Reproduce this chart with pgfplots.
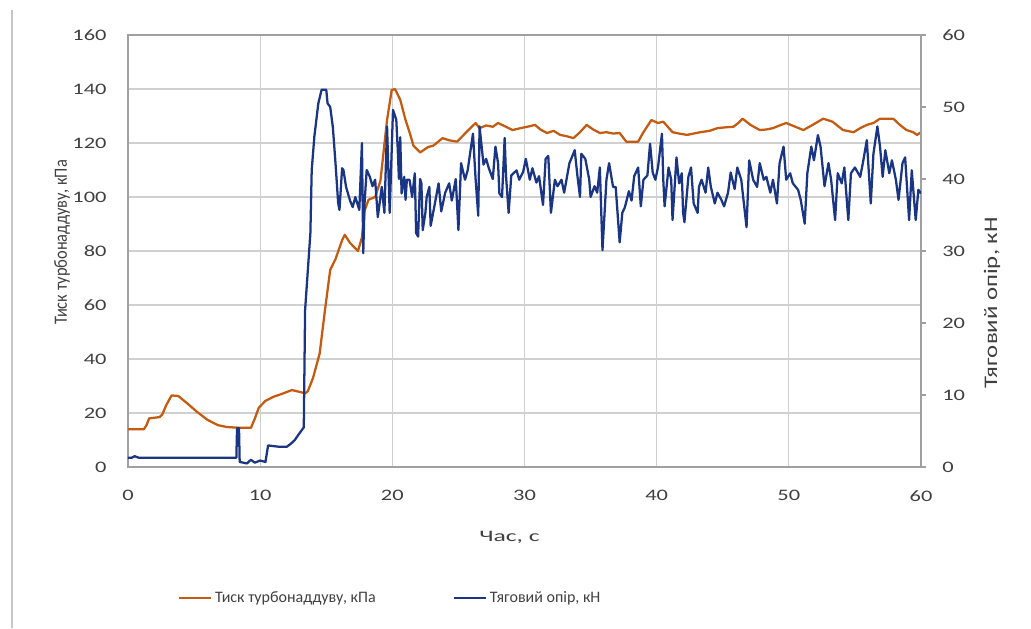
\documentclass[border=0pt]{standalone}
\usepackage{fontspec}
\setmainfont{Carlito}
\usepackage{pgfplots}
\pgfplotsset{compat=1.18}
\definecolor{orng}{HTML}{C55A11}
\definecolor{navy}{HTML}{1A3584}
\definecolor{gridc}{HTML}{D0D0D0}
\definecolor{axc}{HTML}{A0A0A0}
\definecolor{txt}{HTML}{404040}

\pgfplotstableread{
t p
0 14
1.2 14
1.4 15.5
1.6 18
2.4 18.5
2.6 19.5
2.9 23
3.3 26.5
3.8 26.3
4.5 23.5
5.2 20.5
6.0 17.5
6.8 15.5
7.5 14.8
8.5 14.5
9.3 14.5
9.6 18
9.9 22
10.4 24.5
11.0 26
11.6 27
12.4 28.5
13.0 27.8
13.4 27.3
13.6 28
14.0 33
14.5 42
14.9 58
15.3 73
15.7 77
16.2 84
16.4 86
16.8 83
17.4 80
17.7 85
17.9 95
18.2 99
18.7 100
19.1 106
19.6 128.5
19.95 139.6
20.2 140
20.6 136
21.0 128.5
21.3 124
21.6 119
22.1 116.5
22.7 118.5
23.1 119
23.8 121.8
24.3 121
24.9 120.5
25.6 124
26.3 127.4
26.6 125.5
27.1 126.5
27.6 126
28.0 127.4
28.6 126
29.1 124.8
29.7 125.5
30.2 126
30.8 126.7
31.2 125
31.7 123.7
32.2 124.5
32.7 123
33.2 122.5
33.7 121.8
34.2 124
34.7 126.7
35.2 125
35.7 123.7
36.2 124
36.7 123.5
37.2 123.7
37.7 120.5
38.2 120.5
38.6 120.5
39.0 124
39.6 128.5
40.1 127.4
40.5 127.9
41.2 124
41.7 123.5
42.3 123
42.8 123.5
43.3 124
44.0 124.5
44.6 125.5
45.2 125.8
45.8 126
46.2 127.5
46.5 129
47.1 126.7
47.8 124.8
48.3 125
48.8 125.5
49.3 126.5
49.8 127.4
50.5 126
51.1 124.8
51.8 126.7
52.6 129
53.3 127.9
54.1 124.8
54.9 124
55.4 125.5
55.9 126.7
56.4 127.4
56.9 129
57.9 129
58.4 126.7
58.9 124.8
59.4 124
59.7 123
60 124
}\pressure

\pgfplotstableread{
t f
0 1.3
0.3 1.3
0.5 1.5
0.8 1.3
8.2 1.3
8.25 5.4
8.4 5.4
8.45 0.7
9.0 0.5
9.3 1.0
9.6 0.6
10.0 0.9
10.4 0.7
10.6 3.0
11.0 2.9
11.5 2.8
12.0 2.8
12.3 3.2
12.6 3.7
12.9 4.5
13.3 5.5
13.4 21.8
13.8 32.5
13.9 41.25
14.1 45.9
14.4 50.5
14.65 52.4
15.0 52.4
15.1 50.5
15.3 50
15.5 47.2
15.7 42.2
15.9 36.7
16.0 35.7
16.2 41.5
16.3 41.25
16.5 38.9
16.8 37
17.0 36.1
17.2 37.5
17.5 35.7
17.7 45
17.8 29.7
17.9 36.7
18.06 41.25
18.3 40.3
18.5 39
18.7 39.9
18.9 34.7
19.2 38.9
19.4 35.3
19.6 47.3
19.8 35.3
20.05 49.6
20.3 48.2
20.4 44.5
20.5 40
20.6 45.8
20.7 38
20.9 40.3
21.0 37.1
21.1 39.9
21.3 39.9
21.5 37.5
21.7 40.8
21.8 32.5
21.95 32
22.1 40
22.2 39.4
22.3 32.9
22.5 35.3
22.6 37.5
22.8 38.9
22.9 33.5
23.2 36.4
23.5 39.4
23.7 35.5
24.0 38.1
24.3 39.4
24.5 37
24.8 40
25.0 32.9
25.2 42.2
25.5 39.9
25.7 41.2
26.1 46.3
26.3 40
26.5 34.9
26.6 47.3
26.9 42
27.1 42.8
27.3 41.5
27.6 40
27.8 44.5
28.0 42.2
28.1 38
28.3 37.5
28.5 45.7
28.6 40.5
28.8 35.3
29.0 40.5
29.4 41.2
29.6 39.9
29.9 41
30.1 42.8
30.4 39.9
30.6 41.5
30.9 39.5
31.1 40.4
31.4 36.4
31.6 42.8
31.8 43.2
32.0 35.3
32.3 39.9
32.5 39
32.8 39.9
33.0 38.1
33.4 42.2
33.8 44
34.0 40.5
34.2 37.5
34.3 43.5
34.6 42.8
34.9 39.9
35.0 37.5
35.3 39
35.5 38.1
35.7 41.6
35.9 30.1
36.2 39.9
36.4 42.2
36.7 38.9
36.9 38.9
37.2 31.2
37.4 35.3
37.6 36.1
37.9 38.3
38.1 37
38.3 40.4
38.6 41.6
38.8 36.2
39.0 39.9
39.3 40.5
39.5 44.9
39.7 40.9
39.9 39.9
40.1 41.6
40.4 46.3
40.5 39.9
40.6 36.2
40.9 41.6
41.1 39.9
41.2 34.3
41.5 43
41.7 39.4
41.9 40.8
42.0 35.3
42.1 34
42.4 40.3
42.6 41.6
42.8 36.6
43.1 35.3
43.2 38.9
43.4 39.9
43.7 38.1
43.9 41.6
44.1 38.9
44.4 36.6
44.6 38.1
44.9 37.1
45.1 36.2
45.4 38.1
45.6 40.9
45.9 38.6
46.1 41.6
46.4 39.9
46.8 33.3
47.0 42.6
47.3 39.9
47.6 38.9
47.8 42.2
48.1 39.9
48.3 40.3
48.6 38.1
48.8 39.9
49.1 36.6
49.3 42.2
49.6 44.5
49.8 39.9
50.1 40.8
50.3 39.4
50.7 38.5
50.9 37.1
51.2 33.8
51.4 40.8
51.7 44.5
51.9 42.6
52.2 46.1
52.4 44.5
52.7 39
53.0 42.2
53.2 39.9
53.5 34.3
53.7 40.8
54.0 39.4
54.2 41.6
54.5 34.3
54.7 40.8
55.0 41.6
55.4 40.3
55.6 42.2
55.9 45.4
56.2 36.6
56.4 43.5
56.7 47.3
56.9 44.5
57.1 40.3
57.3 44
57.6 40.8
57.8 42.6
58.1 39.9
58.3 37.1
58.6 42.2
58.8 43
59.1 34.3
59.3 41.2
59.6 34.3
59.8 38.5
60.0 38
}\force

\begin{document}
\begin{tikzpicture}
\useasboundingbox (-96pt,-120.75pt) rectangle (677.25pt,350.25pt);
\draw[gray!45, line width=0.8pt] (-87pt,-120.75pt) -- (-87pt,342.75pt);
\pgfplotsset{
  base/.style={
    width=594.75pt, height=324pt, scale only axis,
    at={(0pt,0pt)}, anchor=south west,
    xmin=0, xmax=60,
    font=\fontsize{12}{14}\selectfont,
    every tick label/.append style={text=txt, xscale=1.4},
    /pgf/number format/assume math mode=true,
    axis line style={axc, line width=0.9pt},
  }
}
\begin{axis}[base,
  ymin=0, ymax=160,
  ytick={0,20,...,160},
  xtick={0,10,...,60},
  grid=major,
  grid style={gridc, line width=0.9pt},
  major tick length=0pt,
  xticklabel style={yshift=-14pt},
  yticklabel style={xshift=-8pt},
  xlabel={Час, с},
  ylabel={Тиск турбонаддуву, кПа},
  xlabel style={at={(axis description cs:0.481,-0.162)}, anchor=center, text=txt, xscale=1.6},
  ylabel style={at={(axis description cs:-0.0832,0.52)}, anchor=center, text=txt,
    font=\fontsize{14}{16}\selectfont, xscale=0.88},
]
\addplot[orng, line width=1.7pt, line join=round] table[x=t,y=p] {\pressure};
\end{axis}
\begin{axis}[base,
  axis x line=none,
  axis y line*=right,
  ymin=0, ymax=60,
  ytick={0,10,...,60},
  tick align=outside,
  major tick length=4pt,
  tick style={axc, line width=0.9pt},
  yticklabel style={xshift=5pt},
  ylabel={Тяговий опір, кН},
  ylabel style={at={(axis description cs:1.0895,0.38)}, anchor=center, text=txt, xscale=1.55, yscale=1.2},
  legend columns=2,
  legend style={draw=none, fill=none, inner sep=0pt,
    at={(axis description cs:0.063,-0.303)}, anchor=west,
    font=\fontsize{12}{14}\selectfont, text=txt,
    /tikz/every even column/.append style={column sep=56pt}},
  legend image code/.code={\draw[#1] (0pt,0pt) -- (24pt,0pt);},
]
\addlegendimage{orng, line width=1.7pt}
\addlegendentry{Тиск турбонаддуву, кПа}
\addplot[navy, line width=1.7pt, line join=round] table[x=t,y=f] {\force};
\addlegendentry{Тяговий опір, кН}
\end{axis}
\end{tikzpicture}
\end{document}
